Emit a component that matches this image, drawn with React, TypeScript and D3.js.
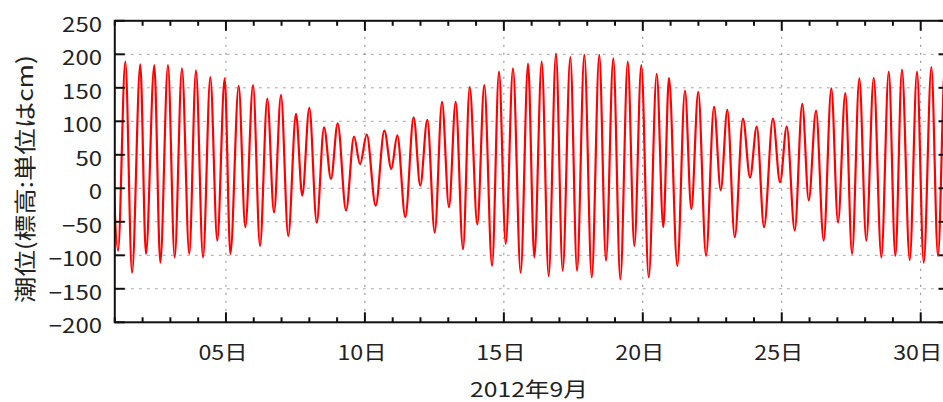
import React from "react";
import * as d3 from "d3";

// Tide extremes (hours since 2012-09-01 00:00) and levels (cm)
const extremeHours = [
  -3.7, 2.8, 9.1, 14.9, 22.0, 26.9, 34.1, 39.3, 45.9, 51.7, 58.0, 64.3, 70.1, 76.2, 82.5, 88.5,
  94.9, 99.8, 107.0, 112.7, 119.4, 125.4, 131.7, 137.5, 143.5, 149.8, 156.5, 161.9, 168.0, 174.4,
  180.7, 186.7, 192.5, 199.7, 206.6, 211.8, 217.6, 225.3, 232.8, 238.8, 244.0, 250.9, 258.1, 263.8,
  269.9, 276.3, 282.6, 288.6, 294.4, 300.7, 306.5, 313.1, 319.1, 325.8, 331.8, 337.6, 343.9, 350.5,
  356.9, 362.3, 368.7, 374.7, 381.0, 386.8, 393.4, 399.2, 405.5, 411.9, 418.4, 424.2, 430.5, 436.6,
  443.0, 448.7, 454.7, 461.1, 468.0, 473.7, 478.6, 485.8, 492.4, 497.9, 503.9, 510.6, 517.5, 523.3,
  529.0, 535.4, 542.5, 548.6, 554.4, 560.7, 568.4, 574.5, 580.3, 587.2, 593.7, 599.3, 605.6, 612.2,
  618.8, 624.6, 630.9, 636.7, 643.0, 649.0, 655.4, 662.0, 668.4, 674.1, 679.8, 686.5, 692.8, 698.6,
  705.2, 710.9, 717.0, 723.0,
];
const extremeLevels = [
  175, -93, 189, -126, 185, -98, 184, -111, 184, -103, 179, -98, 176, -103, 166, -78,
  164, -98, 153, -58, 154, -86, 134, -36, 139, -71, 111, -11, 120, -51,
  91, 14, 97, -33, 77, 36, 80, -26, 86, 29, 79, -43, 106, 4,
  102, -66, 129, -28, 129, -91, 151, -54, 154, -116, 174, -83, 179, -126,
  186, -103, 189, -131, 201, -123, 196, -123, 199, -133, 199, -108, 194, -136,
  189, -86, 184, -133, 171, -58, 165, -116, 146, -31, 144, -101, 122, -3,
  117, -73, 104, 16, 92, -58, 104, 9, 92, -63, 126, -18, 116, -78,
  149, -51, 142, -98, 164, -78, 165, -103, 174, -101, 177, -107, 174, -111,
  181, -101, 185, -100,
];

const yTicks = [-200, -150, -100, -50, 0, 50, 100, 150, 200, 250];
const yGridValues = [-150, -100, -50, 0, 50, 100, 150, 200];
const xMajorDays = [5, 10, 15, 20, 25, 30];
const xTickLabels = ["05日", "10日", "15日", "20日", "25日", "30日"];
const xAxisTitle = "2012年9月";
const yAxisTitle = "潮位(標高:単位はcm)";

const W = 943;
const H = 402;
const left = 114.8;
const right = 948.5;
const top = 20.8;
const bottom = 322.3;

export default function App() {
  const x = d3.scaleLinear().domain([0, 720]).range([left, right]);
  const y = d3.scaleLinear().domain([-200, 250]).range([bottom, top]);
  const data = extremeHours.map((h, i) => ({ h, v: extremeLevels[i] }));
  const line = d3
    .line<{ h: number; v: number }>()
    .x((d) => x(d.h))
    .y((d) => y(d.v))
    .curve(d3.curveMonotoneX);
  const days = d3.range(1, 31);
  const font = "'Noto Sans CJK JP', 'Noto Sans', sans-serif";

  return (
    <svg
      width={W}
      height={H}
      style={{ position: "absolute", left: 0, top: 0, background: "#fff" }}
    >
      <defs>
        <clipPath id="plot">
          <rect x={left} y={top} width={right - left} height={bottom - top} />
        </clipPath>
      </defs>
      <rect x={0} y={0} width={W} height={H} fill="#fff" />
      {/* grid */}
      {yGridValues.map((v) => (
        <line
          key={"gy" + v}
          x1={left}
          x2={right}
          y1={y(v)}
          y2={y(v)}
          stroke="#a8a8a8"
          strokeWidth={1}
          strokeDasharray="3,5"
        />
      ))}
      {xMajorDays.map((d) => (
        <line
          key={"gx" + d}
          x1={x((d - 1) * 24)}
          x2={x((d - 1) * 24)}
          y1={top}
          y2={bottom}
          stroke="#808080"
          strokeWidth={1}
          strokeDasharray="2,6"
        />
      ))}
      {/* data */}
      <g clipPath="url(#plot)">
        <path d={line(data) || ""} fill="none" stroke="#ff0000" strokeWidth={2.2} />
      </g>
      {/* frame */}
      <rect
        x={left}
        y={top}
        width={right - left}
        height={bottom - top}
        fill="none"
        stroke="#111"
        strokeWidth={2}
      />
      {/* y ticks */}
      {yTicks.map((v) => (
        <g key={"yt" + v}>
          <line x1={left} x2={left + 10} y1={y(v)} y2={y(v)} stroke="#111" strokeWidth={2} />
          <line x1={right - 10} x2={right} y1={y(v)} y2={y(v)} stroke="#111" strokeWidth={2} />
          <text
            x={102}
            y={y(v) + 11}
            textAnchor="end"
            fontFamily={font}
            fontSize={20}
            fill="#222"
            textLength={String(v).length * 13.3}
            lengthAdjust="spacingAndGlyphs"
          >
            {v < 0 ? "−" + Math.abs(v) : String(v)}
          </text>
        </g>
      ))}
      {/* x ticks */}
      {days.map((d) => {
        const major = xMajorDays.includes(d);
        const len = major ? 10 : 5;
        const xp = x((d - 1) * 24);
        return (
          <g key={"xt" + d}>
            <line x1={xp} x2={xp} y1={bottom} y2={bottom - len} stroke="#111" strokeWidth={2} />
            <line x1={xp} x2={xp} y1={top} y2={top + len} stroke="#111" strokeWidth={2} />
          </g>
        );
      })}
      {xMajorDays.map((d, i) => (
        <text
          key={"xl" + d}
          x={x((d - 1) * 24) - 3}
          y={359.5}
          textAnchor="middle"
          fontFamily={font}
          fontSize={20}
          fill="#222"
          textLength={49}
          lengthAdjust="spacingAndGlyphs"
        >
          {xTickLabels[i]}
        </text>
      ))}
      <text
        x={529}
        y={396.5}
        textAnchor="middle"
        fontFamily={font}
        fontSize={20}
        fill="#222"
        textLength={118}
        lengthAdjust="spacingAndGlyphs"
      >
        {xAxisTitle}
      </text>
      <text
        transform="translate(33,179) rotate(-90)"
        textAnchor="middle"
        fontFamily={font}
        fontSize={22}
        fill="#222"
        textLength={248}
        lengthAdjust="spacingAndGlyphs"
      >
        {yAxisTitle}
      </text>
    </svg>
  );
}
